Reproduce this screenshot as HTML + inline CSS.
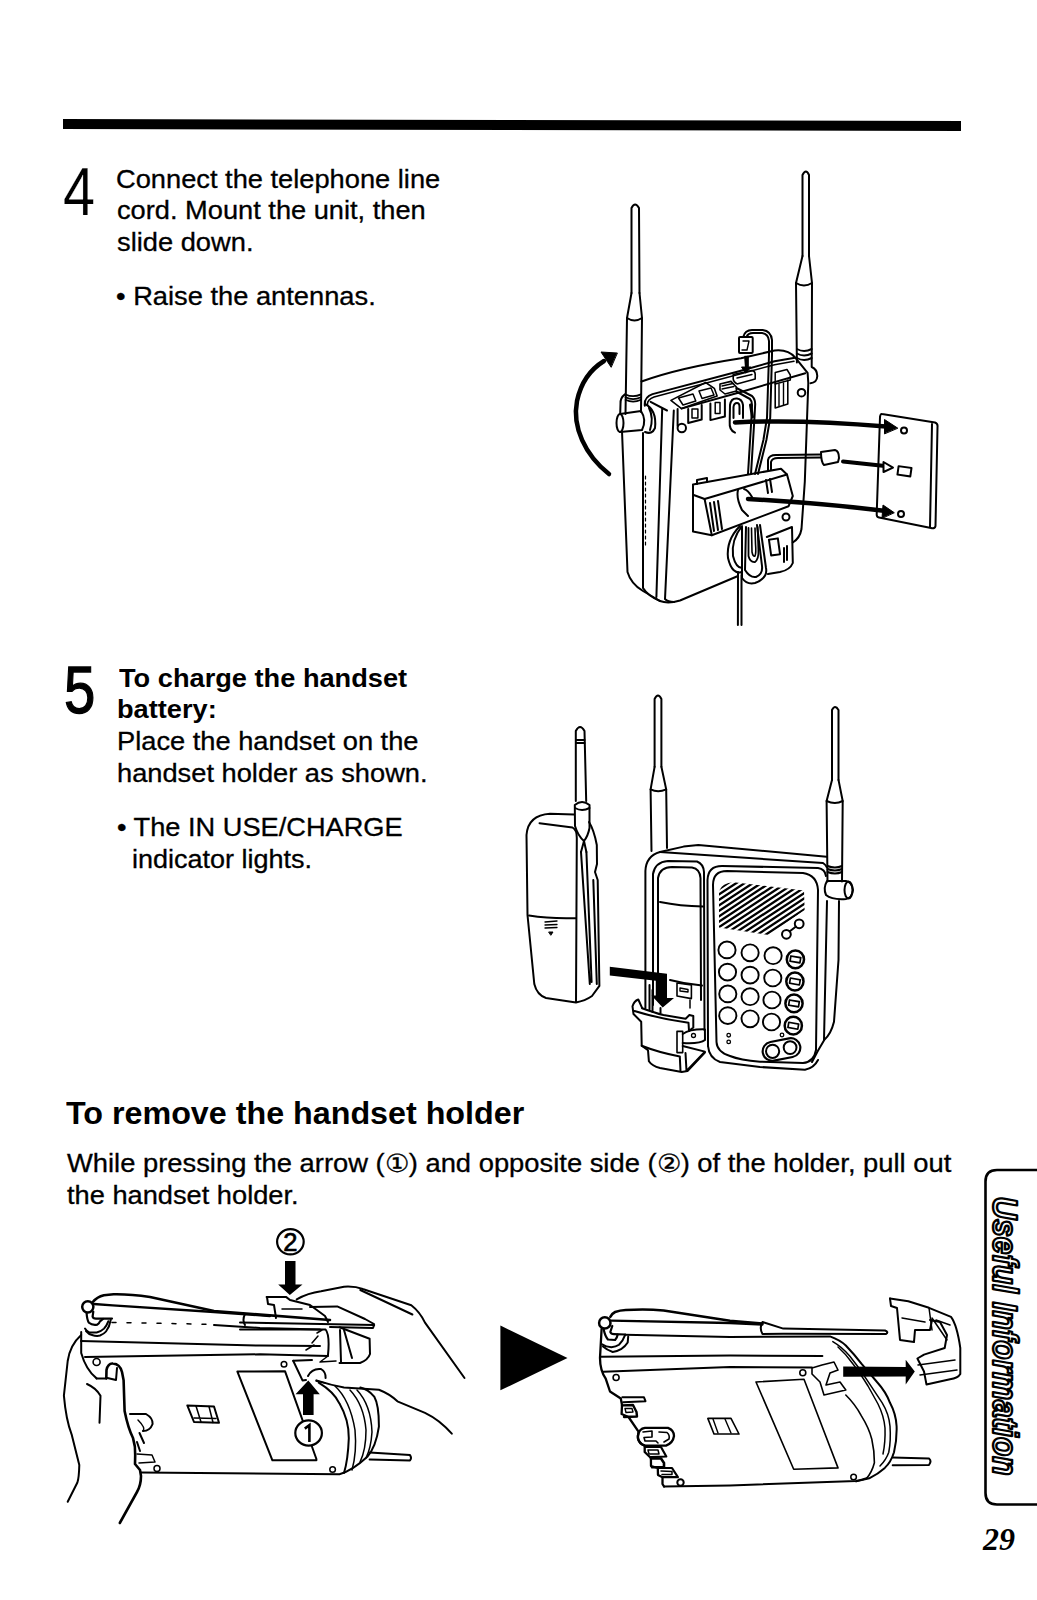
<!DOCTYPE html>
<html><head><meta charset="utf-8">
<style>
html,body{margin:0;padding:0;background:#fff;}
body{width:1037px;height:1600px;position:relative;overflow:hidden;font-family:"Liberation Sans",sans-serif;color:#000;}
.t{position:absolute;white-space:nowrap;line-height:1;transform-origin:0 0;-webkit-text-stroke:0.3px #000;}
.b{font-weight:bold;}
.num{position:absolute;font-size:67px;line-height:1;transform-origin:0 0;transform:scaleX(0.84);-webkit-text-stroke:1.3px #000;}
svg{position:absolute;left:0;top:0;}
</style></head><body>
<svg width="1037" height="1600" viewBox="0 0 1037 1600">
<polygon points="63,119 961,121 961,131 63,129" fill="#000"/>

<!-- ILL1 -->
<g fill="none" stroke="#000" stroke-width="2" stroke-linejoin="round" stroke-linecap="round">
<!-- left antenna -->
<path d="M631.5,293 L631.5,208 Q635,201 639,208 L639.5,293"/>
<path d="M631.5,293 L627,318 L625.5,414 M639.5,293 L642,318 L641,412"/>
<path d="M627,318 Q634.5,323 642,318"/>
<path d="M625.5,394.4 Q633,398 641,394.4 M625.5,397.3 Q633,401 641,397.3 M625.5,399.8 Q633,403.5 641,399.8" stroke-width="1.7"/>
<path d="M624.9,394.4 Q620,398 620.5,404 L620.2,414"/>
<path d="M620,414 L641,411 Q647,420 642,430 L620,432"/>
<ellipse cx="620" cy="423" rx="3.5" ry="9"/>
<path d="M645,404 Q657,410 655,428 Q652,435 645,432 M649,408 Q654,418 650,430"/>
<!-- right antenna -->
<path d="M802.5,256 L802.5,175 Q806,168 809,175 L809,256"/>
<path d="M802.5,256 L796,283 L796.9,362.4 M809,256 L812,283 L811.7,367 Q817,369 817.3,376 Q817,382.5 810.5,383.2"/>
<path d="M796,283 Q804,288 812,283"/>
<path d="M796.9,349 Q804,353 811.7,349 M796.9,353.5 Q804,357.5 811.7,353.5 M796.9,358 Q804,362 811.7,358"/>
<!-- rotation arrow -->
<path d="M609,474 C585,455 572,427 577,401 C581,382 591,369 604,361" stroke-width="4.5"/>
<polygon points="617,353 601,352 611,367" fill="#000" stroke-width="1"/>
<!-- body outline -->
<path d="M622,431 L627.5,572 Q631,584 643,591 L660,601 Q668,604 680,600.5 L738,576"/>
<path d="M641.5,381.5 C670,371 710,363 741,358.2 L774.6,350.5 Q788,349 795.5,357.8 L807.6,372.8 L808.3,383 L804.8,481.8 L801.5,529 Q800,538 792.8,542.5"/>
<path d="M644.8,405.7 Q644,397 652.5,394.1 L740,371 L774.6,361.2 L795,357.8"/>
<path d="M647.5,405 Q647,399.5 654,397 L740,374 L774.6,364.7 L794,361.2" stroke-width="1.5"/>
<path d="M650.6,401.8 L667,410.5"/>
<path d="M681.5,408.6 L740,392.2 L805.3,373.2"/>
<path d="M670.9,400.4 L705.6,382.5 L714.3,388.3 L717.1,396 L681.5,408.6 Z" stroke-width="1.6"/>
<path d="M678.5,398 L693,394 L695.8,401 L683,405 Z M699,391 L711,388 L714,395 L702,398.5 Z" stroke-width="1.5"/>
<path d="M643,433 L643,588 Q648,596 660,601"/>
<path d="M645.5,476 L645.5,545" stroke-width="1.2" stroke-dasharray="3,3"/>
<path d="M662.2,408.6 L656.4,597"/>
<path d="M673.8,410.5 L665,599 Q668,602 674,602"/>
<!-- hooks on top -->
<path d="M677.6,409 L677.6,426" />
<circle cx="681.8" cy="428" r="4.2"/>
<path d="M688.2,409 L688.2,423 L701.7,419.5 L701.7,405"/>
<rect x="692" y="409" width="5.9" height="9" stroke-width="1.5"/>
<path d="M710.4,403.5 L710.4,420.1 L724.9,416.5 L724.9,399.5"/>
<rect x="715.2" y="402.5" width="4.8" height="11" stroke-width="1.5"/>
<path d="M735,432.7 Q729,430 729.7,422 L730,405 Q731,398 737,398.5 Q742,399 743,405 L743,418"/>
<path d="M733.5,418 L733.5,407 Q734,403 737,403 Q739.5,403 739.5,407 L739.5,414"/>
<circle cx="801.5" cy="392.7" r="3.8"/>
<path d="M775.2,382.6 L775.2,408 L787.8,404 L787.8,380" stroke-width="1.6"/>
<path d="M779,384 L779,406 M783.5,383 L783.5,405" stroke-width="1.4"/>
<path d="M775.2,372.6 L787,369.5 L790.3,375 L790.3,380 L775.2,384 Z" stroke-width="1.5"/>
<!-- plug on top + cord -->
<rect x="739" y="337" width="13.7" height="16" rx="1"/>
<path d="M743,341 L749,341 L747,350 L742,350" stroke-width="1.4"/>
<path d="M743.2,337 Q745,330 752,330 L762.7,330 Q771,331 772,340 L772,355 L770.2,417.8 L766.4,440 L758,474"/>
<path d="M746.5,337 Q748,333 753,333 L762,333 Q768.5,334 769,341 L769,355 L767,417.8 L763.4,440 L755,474"/>
<path d="M745,356.3 L748.3,356.3 L748.3,367 L751,367 L745.8,373.2 L741.5,367 L745,367 Z" fill="#000" stroke-width="1"/>
<path d="M733.2,374.5 L752,370.5 Q755,371 755.2,374 L755.2,379 L737,383.9 Q733.5,382 733.2,379 Z" stroke-width="1.6"/>
<path d="M737,378 L752,374.5" stroke-width="1.4"/>
<path d="M720,384 L731,381.4 L736.4,387 L736.4,391 L725,394 L720,390 Z" stroke-width="1.6"/>
<path d="M722,386 L733,383.5 M722,389 L734,386.5" stroke-width="1.3"/>
<path d="M736.4,388 L752,396 Q755.2,399 755.2,404 L754.5,417 L751,474" stroke-width="2"/>
<path d="M736.4,391.5 L750,399 Q752,401 752,405 L751.5,417 L748,474" stroke-width="2"/>
<path d="M750.5,405 L752.5,417" stroke-width="3"/>
<!-- middle cord to plug -->
<path d="M768,470 L768,460 Q769,455 776,455 L821,454.5"/>
<path d="M771,470 L771,462 Q772,458 778,458 L821,457.5"/>
<path d="M821,452 L835,450 Q839,451 839,458 L838,462 L824,465 Q821,462 821,452 Z"/>
<!-- holder block -->
<path d="M693,494.7 L693,531.6 L711.8,535.2 L788.5,506.3 L792.8,496 L787,474.5 L781,468.7 L693,484.6 Z"/>
<path d="M693,494.7 L704.6,499 L787,474.5"/>
<path d="M704.6,499 L711.8,535.2"/>
<path d="M710,503 L714,531 M714,502 L718,530 M718,501 L722,529"/>
<path d="M697,484 L697,480 L707,478 L707,482"/>
<path d="M766,480 L768,493 M770,479 L772,492"/>
<path d="M738,490 Q736,498 742,510 L748,516 M744,489 Q748,490 752,497"/>
<circle cx="786" cy="517" r="3.5"/>
<!-- cord loops -->
<path d="M740,526 Q726,540 728,558 Q732,575 742,572"/>
<path d="M742,526 Q731,540 733,556 Q736,568 742,568"/>
<path d="M742,527 L742,578 Q747,585 755,583 Q768,578 766,568 L760,525"/>
<path d="M746,527 L745,570 Q750,578 756,577 Q763,574 762,566 L757,525"/>
<path d="M748.5,528 L748.5,556 Q750,562.5 755,562 Q759,559 758.4,549.4 L757.6,527" stroke-width="1.8"/>
<path d="M751.5,528 L752,552 Q753,557 755,556 Q756.3,553 755.5,544 L755,528" stroke-width="1.6"/>
<path d="M738,572 L737.9,625 M741.5,575 L741.5,625"/>
<!-- cord holder bracket -->
<path d="M766.8,537 L792,527 L792.8,563 Q790,570 780,572 L768,574"/>
<rect x="770" y="539" width="9" height="16" transform="rotate(-8 774 547)"/>
<path d="M784,548 L784,562 M787,546 L787,560"/>
<!-- wall plate -->
<path d="M882,414 L935,422.5 Q938,423.5 937.5,427 L935.5,526 Q935,529 931,528 L879,517.5 Q876.5,517 876.7,514 L880,417 Q880.5,413.5 882,414 Z"/>
<path d="M932,424 L930,527"/>
<circle cx="904" cy="430.5" r="3"/>
<rect x="898" y="467" width="13" height="8.5" transform="rotate(8 904 471)"/>
<circle cx="901" cy="514" r="3"/>
<!-- arrows to plate -->
<path d="M735,422.5 Q800,419 886,426.5" stroke-width="4.5"/>
<polygon points="897.5,428 884.5,419.5 884.5,433.5" fill="#000" stroke-width="1"/>
<path d="M843,461.5 L885,466" stroke-width="4"/>
<polygon points="893,467.6 883.5,462 883.5,472" fill="#fff" stroke-width="2"/>
<path d="M748,499 Q820,503 886,511" stroke-width="4.5"/>
<polygon points="894,512.5 883,505 882,518" fill="#000" stroke-width="1"/>
</g>

<!-- ILL2 -->
<g fill="none" stroke="#000" stroke-width="2" stroke-linejoin="round" stroke-linecap="round">
<!-- handset antenna -->
<path d="M575.8,801 L575.8,731 Q580,723 584.5,731 L586.2,801"/>
<path d="M576.5,740 L584.5,740 M576.5,743 L584.5,743"/>
<path d="M574.8,805 Q582,799 589.5,805 L589.5,828 Q588,836 584,841 Q578,836 575,826 Z"/>
<path d="M575,808 Q582,812 589.5,808"/>
<!-- handset body -->
<path d="M574,814.5 L550,813.7 Q528,815 526.5,835 L527.5,915 L534.3,984 Q537,995 546,998 L576,1002.4 Q585,1001 592,996 L599.4,985.9 L597.7,880 L595,872 L597,864 L596.8,845 Q594,830 589,822"/>
<path d="M539.5,823.2 L572.5,827.5 Q577,830 576.8,838 L576,1002"/>
<path d="M581,852 L589.8,984 M586.4,852 L591.6,982 M593.3,880 L596.8,984"/>
<path d="M584,841 L581,852 M584,841 L586.4,852"/>
<path d="M529,915.6 Q550,919 576,918.2"/>
<path d="M545,922 L557,921 M545,925 L557,924.5 M545,928 L557,927.5" stroke-width="1.3"/>
<path d="M549,932 L553,932 L551,935 Z" fill="#000" stroke-width="1"/>
<!-- base left antenna -->
<path d="M654.6,766.8 L654.6,699 Q658,692 661.4,699 L661.4,766.8"/>
<path d="M654.6,766.8 L650.6,789.4 L651.5,851 M661.4,766.8 L666.2,789.4 L667,848"/>
<path d="M650.6,789.4 Q658,793 666.2,789.4"/>
<!-- base right antenna -->
<path d="M832,779.9 L832,710 Q835,704 838.5,710 L838.5,779.9"/>
<path d="M832,779.9 L826.6,801 L827.5,881.5 M838.5,779.9 L842.7,801 L842,881.5"/>
<path d="M826.6,801 Q835,805 842.7,801"/>
<path d="M827.5,866 Q835,869 842,866 M827.5,869 Q835,872 842,869 M827.5,872 Q835,875 842,872"/>
<path d="M827,881 Q823,888 826,895 Q832,900 846,899 Q852,898 853,890 Q852,882 846,881 Z"/>
<ellipse cx="848.5" cy="890" rx="4" ry="8.5"/>
<!-- base body -->
<path d="M645.4,1008 L645.4,871 Q646,856 660,852 L683.6,846.6 L698.3,845 L826.6,856.8"/>
<path d="M660,852 L823,863 Q826,865 826.6,867"/>
<path d="M653,1005 L653,874 Q655,862 668,861 L697,861.5 Q703.5,864 704,872 L704.5,1030"/>
<path d="M839,901 L838.5,960 L834,1021.8 Q831,1034 824.4,1039.7 Q818,1050 812,1062"/>
<path d="M827,901 L824,1040"/>
<!-- handset in cradle -->
<path d="M658,1000 L658,878 Q660,867 672,867 L692,867.5 Q700,869 700.5,878 L701,1000"/>
<path d="M660,902 Q680,906 703,906.6"/>
<path d="M670,980 Q685,984 702,985.6"/>
<path d="M677,983 L691.4,985 L691.4,998.6 L677,996 Z" stroke-width="1.6"/>
<path d="M680,988 L688,989.5 L688,992 L680,991 Z" stroke-width="1.4"/>
<!-- keypad panel -->
<path d="M708,1046 L707.5,880 Q708,866 722,866 L818,868 Q825,869 826,876"/>
<path d="M727,871 L803,873 Q817,875 818,890 L816,1050 Q814,1062 803,1063 L760,1061.7 Q740,1060 730,1056 Q717,1052 716.5,1042 L713,885 Q713,871 727,871 Z"/>
<path d="M708,1046 Q709,1058 720,1062 L760,1067 L805,1069.8 Q814,1068 818,1060"/>
<!-- speaker grille -->
<clipPath id="grille"><path d="M719,891 Q722,883 733.8,882.3 L804,890.4 L804.6,910 L769,935 L719,927.5 Z"/></clipPath>
<g clip-path="url(#grille)" stroke-width="2.3">
<path d="M630.0,942 L726.0,879"/>
<path d="M638.3,942 L734.3,879"/>
<path d="M646.6,942 L742.6,879"/>
<path d="M654.9,942 L750.9,879"/>
<path d="M663.2,942 L759.2,879"/>
<path d="M671.5,942 L767.5,879"/>
<path d="M679.8,942 L775.8,879"/>
<path d="M688.1,942 L784.1,879"/>
<path d="M696.4,942 L792.4,879"/>
<path d="M704.7,942 L800.7,879"/>
<path d="M713.0,942 L809.0,879"/>
<path d="M721.3,942 L817.3,879"/>
<path d="M729.6,942 L825.6,879"/>
<path d="M737.9,942 L833.9,879"/>
<path d="M746.2,942 L842.2,879"/>
<path d="M754.5,942 L850.5,879"/>
<path d="M762.8,942 L858.8,879"/>
<path d="M771.1,942 L867.1,879"/>
<path d="M779.4,942 L875.4,879"/>
<path d="M787.7,942 L883.7,879"/>
<path d="M796.0,942 L892.0,879"/>
<path d="M804.3,942 L900.3,879"/>
<path d="M812.6,942 L908.6,879"/>
</g>
<circle cx="786.4" cy="934.3" r="4.4"/>
<circle cx="799.2" cy="923.8" r="4.4"/>
<path d="M789.5,931.5 L796,926.5"/>
<ellipse cx="727" cy="949.9" rx="8.6" ry="8.4" stroke-width="1.9"/>
<ellipse cx="750.1" cy="952.8" rx="8.6" ry="8.4" stroke-width="1.9"/>
<ellipse cx="773.1" cy="955.7" rx="8.6" ry="8.4" stroke-width="1.9"/>
<ellipse cx="795.4" cy="959.4" rx="8.6" ry="8.9" stroke-width="2.5"/>
<rect x="790.4" y="956.8" width="10" height="5.2" stroke-width="1.7" transform="rotate(10 795.4 959.4)"/>
<ellipse cx="727.5" cy="972.1" rx="8.6" ry="8.4" stroke-width="1.9"/>
<ellipse cx="750.1" cy="975.1" rx="8.6" ry="8.4" stroke-width="1.9"/>
<ellipse cx="772.8" cy="978" rx="8.6" ry="8.4" stroke-width="1.9"/>
<ellipse cx="794.9" cy="981.5" rx="8.6" ry="8.9" stroke-width="2.5"/>
<rect x="789.9" y="978.9" width="10" height="5.2" stroke-width="1.7" transform="rotate(10 794.9 981.5)"/>
<ellipse cx="727.8" cy="993.9" rx="8.6" ry="8.4" stroke-width="1.9"/>
<ellipse cx="750.1" cy="996.7" rx="8.6" ry="8.4" stroke-width="1.9"/>
<ellipse cx="772" cy="1000" rx="8.6" ry="8.4" stroke-width="1.9"/>
<ellipse cx="794" cy="1003.4" rx="8.6" ry="8.9" stroke-width="2.5"/>
<rect x="789.0" y="1000.8" width="10" height="5.2" stroke-width="1.7" transform="rotate(10 794 1003.4)"/>
<ellipse cx="727.8" cy="1015.6" rx="8.6" ry="8.4" stroke-width="1.9"/>
<ellipse cx="750.1" cy="1018.8" rx="8.6" ry="8.4" stroke-width="1.9"/>
<ellipse cx="771.5" cy="1022" rx="8.6" ry="8.4" stroke-width="1.9"/>
<ellipse cx="793.3" cy="1025.7" rx="8.6" ry="8.9" stroke-width="2.5"/>
<rect x="788.3" y="1023.1" width="10" height="5.2" stroke-width="1.7" transform="rotate(10 793.3 1025.7)"/>
<circle cx="728.7" cy="1035.2" r="1.8" stroke-width="1.3"/>
<circle cx="728.7" cy="1041.9" r="1.8" stroke-width="1.3"/>
<circle cx="782" cy="1035" r="1.8" stroke-width="1.3"/>
<rect x="762.5" y="1040" width="38" height="19" rx="9.5" transform="rotate(-11 781.5 1049.5)" stroke-width="2.2"/>
<circle cx="772.6" cy="1051.3" r="6.6"/>
<circle cx="790.1" cy="1047.6" r="6.4"/>
<!-- cradle holder -->
<path d="M642.2,1008.2 L638.3,999.5 Q634,1001 632.5,1006.3 L633.5,1014 L641.2,1021.7 L641.7,1045.8 L648,1050.2 L648.9,1061.3 Q652,1066 660,1068 L681.7,1071.9 L687.5,1071 L704.9,1052.6"/>
<path d="M642.2,1008.2 Q655,1013 663.4,1015 L685.6,1018.8 L689.4,1015 L693.3,1016 L693.3,1027.5 L689,1031"/>
<path d="M634.5,1011 Q660,1019 688.5,1022.7 L689,1031"/>
<path d="M641.7,1045.8 Q660,1053 679.8,1056.4 L680.5,1071"/>
<path d="M677,1031.4 L682.7,1031.4 L682.7,1052.6 L677,1052.6 Z" stroke-width="1.6"/>
<path d="M682.7,1034 Q690,1029 704.9,1029.4 L705,1040 Q700,1044 682.7,1043"/>
<circle cx="693.5" cy="1035.5" r="2" stroke-width="1.3"/>
<path d="M682.7,1046 L704.9,1051.6 L686.5,1071 L685.5,1053"/>
<path d="M649.5,1010 L649.5,985 M652.5,1012 L652.5,990 M660.5,1013 L660.5,1008"/>
<path d="M690,1000 L690,1008" stroke-width="1.5"/>
</g>
<!-- L arrow -->
<path d="M609.8,966.8 L667,973.7 L667,998 L674,998 L662.7,1007.6 L651.5,995.4 L655.8,995.4 L655.8,980.7 L609.8,975.5 Z" fill="#000"/>

<!-- ILL3 -->
<g fill="none" stroke="#000" stroke-width="2" stroke-linejoin="round" stroke-linecap="round">
<!-- antenna knob -->
<circle cx="87.8" cy="1306.8" r="5.6" stroke-width="2.5"/>
<path d="M93.3,1311.7 L92.6,1316.5 Q93,1318.6 96,1318.6 L112,1318.6" stroke-width="2.2"/>
<path d="M86.6,1313 Q87,1320 89,1322.8 Q92,1325.5 97.2,1324.7 Q99.5,1323 100,1321.3 L103,1319" stroke-width="2.2"/>
<path d="M85,1328.6 Q87,1332 89.5,1332.4 L96.7,1332.4 Q101,1331.5 104,1328.6 Q107,1325 108.3,1321.3" stroke-width="2"/>
<path d="M86,1331 Q89,1334.5 92,1335 Q96.7,1336.5 100,1335.5 Q104,1334 106,1331.5 Q109.5,1327 110.7,1320" stroke-width="2"/>
<!-- top outer curve -->
<path d="M92.8,1302 Q97,1297 103.9,1295.3 L113.6,1294.3 Q130,1294 150,1297 L214,1311 L330,1320" stroke-width="2.6"/>
<path d="M93.8,1304 L112.6,1305.4 L214,1312 L270,1316" stroke-width="2.3"/>
<path d="M112,1322.4 L214,1324.4" stroke-dasharray="4,11" stroke-width="1.5"/>
<path d="M214,1325 L260,1328 L320,1329.5"/>
<path d="M245,1314 Q242,1320 245,1325"/>
<path d="M81,1341 L260,1345.6 L320,1346"/>
<path d="M85,1357 L260,1354.3 L328,1356"/>
<path d="M240,1329.5 L325.6,1329.5 Q330,1335 328,1355"/>
<!-- body left edge -->
<path d="M81.2,1332 L81.2,1353 Q86,1370 96.6,1378.4"/>
<circle cx="96.6" cy="1362" r="3.5" stroke-width="1.6"/>
<!-- left hand -->
<path d="M81.2,1335 Q70,1345 67.7,1361 L63.9,1395.7 Q66,1420 71.6,1434.3 L79.3,1465 Q79,1478 77.4,1482.5 L67.7,1501.8"/>
<path d="M87,1384 Q96,1388 100.5,1395.7 L99.5,1422.7"/>
<path d="M106.3,1378.4 L106.5,1370 Q108,1363 113,1363.5 Q120,1364 122,1372 L123.6,1380.3 L124.6,1411 Q128,1428 133,1438 Q135.5,1446 135.2,1455 L135,1464 L140,1470 L141,1476 Q141,1485 137,1492 L119.8,1523" stroke-width="2.6"/>
<path d="M107.5,1378 L116,1380 L117,1368"/>
<path d="M96.6,1378.4 L106.3,1378.4"/>
<!-- body bottom and right end -->
<path d="M141,1472.5 L339.5,1474.2 Q352,1471 367.3,1456.8 Q376,1447 378.9,1426.7 Q379,1405 374.2,1396.6 Q368,1389 360.3,1387.4"/>
<path d="M318.7,1382.7 Q334,1392 339.5,1403.6 Q349,1420 348.8,1438.3 Q348,1460 344,1473"/>
<path d="M335,1386 Q350,1400 355,1430 Q357,1452 352,1470" stroke-width="1.5"/>
<path d="M350,1390 Q364,1405 366,1430 Q366,1450 360,1462" stroke-width="1.5"/>
<path d="M357,1390 Q371,1405 372,1432 Q371,1448 366,1458" stroke-width="1.5"/>
<path d="M369.6,1452.5 L410,1455 Q412,1458 410,1460.5 L369.6,1459.5"/>
<circle cx="332.6" cy="1469.5" r="2.8" stroke-width="1.5"/>
<!-- label parallelogram -->
<path d="M237.4,1371.6 L285,1371.2 L316.4,1459 L316.4,1460.3 L272.4,1460.3 L237.4,1371.6" />
<circle cx="284" cy="1364.2" r="2.8" stroke-width="1.5"/>
<path d="M293.2,1360.8 L302.5,1380.4 L306,1380"/>
<path d="M293.2,1360.8 L312,1360"/>
<!-- small window -->
<path d="M187.3,1405.4 L214,1406.5 L219,1422.7 L194,1422 Z"/>
<path d="M196,1406 L201,1422 M209,1406.5 L213,1422.5 M194,1418 L216,1418.5" stroke-width="1.5"/>
<!-- bump and bottom-left details -->
<path d="M130,1414 L146,1414 Q153,1418 152.6,1424 Q150,1431 143,1431"/>
<path d="M138,1420 Q146,1428 143,1431" stroke-width="1.5"/>
<path d="M137,1454 L152,1455 L155,1462 L139,1463" stroke-width="1.5"/>
<circle cx="157" cy="1468.5" r="3" stroke-width="1.5"/>
<path d="M137,1442 L140,1451 M139.5,1433 L144,1443" stroke-width="2"/>
<!-- holder being pressed -->
<path d="M266.6,1297.1 L286.3,1297.1 L290,1300 L310,1305 L325,1316 L328,1322"/>
<path d="M267,1297 L268,1304 L274,1305 L276,1318"/>
<path d="M282,1309 L302,1309" stroke-width="1.5"/>
<path d="M240,1322.6 L374.2,1324.9 L373,1328 L330,1327"/>
<path d="M310,1307 L337.2,1306.4 L365,1319 L374,1324"/>
<path d="M339.5,1327.2 L369.6,1338.8 L370,1354 Q368,1360 360,1363 L339.5,1363"/>
<path d="M340,1330 L341,1362 M344,1330 L352,1358"/>
<path d="M328,1356 L320,1362 L336,1361" stroke-width="1.5"/>
<path d="M312,1343 L318,1336 M306,1350 L314,1345 M317,1333 L322,1330" stroke-width="1.5"/>
<!-- right hand upper -->
<path d="M296.7,1299.4 Q308,1293 321,1291.3 L344,1286.7 Q355,1286 362.7,1289 L411.3,1305.2 Q420,1312 425,1322.6 L464.5,1378"/>
<path d="M360.3,1290 L412.4,1314.5"/>
<!-- right hand lower -->
<path d="M308,1376 Q312,1368 321,1369 Q326,1372 325.6,1378"/>
<path d="M316.4,1380.4 Q330,1385 344,1387.4 L378.9,1389.7 Q390,1394 397.4,1401.3 L425,1412.8 Q440,1420 451.8,1433.7"/>
<path d="M316,1381 L325,1383" stroke-width="1.5"/>
</g>
<!-- numbered markers ill3 -->
<g fill="#fff" stroke="#000" stroke-width="2.2">
<ellipse cx="290.4" cy="1241.8" rx="13.3" ry="12.6"/>
<ellipse cx="308.6" cy="1433" rx="13.3" ry="12.6"/>
</g>
<text x="290.4" y="1250.7" font-family="Liberation Sans" font-size="25.5" text-anchor="middle" stroke="#000" stroke-width="0.7">2</text>
<path d="M309.4,1442 L309.4,1425.2 L304.8,1428.6" fill="none" stroke="#000" stroke-width="2.6" stroke-linejoin="miter"/>
<path d="M285,1261 L295.5,1261 L295.5,1284.4 L302.5,1284.4 L289.8,1295 L278.2,1284.4 L285,1284.4 Z" fill="#000"/>
<path d="M303,1415 L313.6,1415 L313.6,1394.3 L319.8,1394.3 L308.3,1380.4 L295.5,1394.3 L303,1394.3 Z" fill="#000"/>

<!-- ILL4 -->
<polygon points="500.4,1325.5 500.4,1390.3 567.5,1357.9" fill="#000"/>
<g fill="none" stroke="#000" stroke-width="2" stroke-linejoin="round" stroke-linecap="round">
<circle cx="604.8" cy="1322.9" r="5.7" stroke-width="2.5"/>
<path d="M612.3,1326 L610.3,1332 Q611,1334.2 614,1334.2 L625,1334.5" stroke-width="2.2"/>
<path d="M603.6,1329 Q605,1336 607.9,1339.5 L615.1,1340 Q617,1338 617.6,1334.7" stroke-width="2.2"/>
<path d="M602.1,1344.4 Q606,1347 611.3,1347.3 Q616,1347 619,1344.8 Q623,1341 625.3,1334.7" stroke-width="2"/>
<path d="M603,1346.5 Q607,1350 612.7,1352 Q617,1351.5 621,1349.2 Q625.5,1346 627.7,1342.4 L628.2,1336.6" stroke-width="2"/>
<path d="M610.3,1316.9 Q612,1313.5 615.1,1312 Q620,1310.4 625.8,1310.1 Q645,1309 663.6,1310.4 L730,1320.8 L762.5,1323.4" stroke-width="2.5"/>
<path d="M611.3,1320.7 L730,1323 L762.5,1324.5" stroke-width="2.3"/>
<path d="M762.5,1322 L783.3,1328.6 L885,1330.5 Q889,1332 886,1334 L783.3,1333.8 L762.5,1334 Q759,1328 762.5,1322"/>
<path d="M625,1334.7 L730,1337 L830,1336.4 Q840,1340 845.8,1345.5 Q854,1354 861.4,1363.7 L877,1382 Q886,1392 890,1402.8 Q896,1414 896.6,1426.2 Q897,1440 894,1452.2 Q891,1462 884.8,1467.9 Q878,1474 869.2,1478.3 L856.2,1481.4"/>
<path d="M832.8,1341.6 Q842,1347 849.7,1355.9 Q858,1366 866.6,1379.3 L882.2,1402.8 Q889,1414 890,1426.2 Q891,1440 888.8,1452.2 Q886,1460 880,1466" stroke-width="1.5"/>
<path d="M838,1347 Q846,1354 853,1364 Q860,1373 868,1386 L878,1404 Q884,1416 885,1428 Q885.5,1442 883,1454" stroke-width="1.5"/>
<path d="M845.8,1395 Q855,1404 861.4,1415.8 Q869,1428 871.8,1439.2 Q874.5,1451 874.4,1462.7 Q872,1472 866.6,1478.3" stroke-width="1.6"/>
<path d="M601,1356.7 L730,1355.5 L822.4,1356"/>
<path d="M603.4,1371.7 L730,1367 L812,1367.6"/>
<path d="M601.6,1329 L600,1357.9 Q600,1370 605.7,1378.7 L610,1391.5 L620.8,1398.5 L622,1405 L621.6,1414 L628.5,1417 L638.5,1431.7 L637.8,1438 Q639,1444 644.7,1445.6 L644.7,1452 L650.9,1458 L651,1466 L657.8,1468 L658,1475 L662.5,1477.2 L662.5,1484 L664,1486.5" stroke-width="2.3"/>
<circle cx="616.1" cy="1377.5" r="3" stroke-width="1.6"/>
<path d="M622.3,1397.3 L644,1397.3 L645.5,1401.2 L623.1,1402.3" stroke-width="2"/>
<path d="M622,1405.4 L633,1405 L636.5,1412 L637,1416.5 L624,1417" stroke-width="2.4"/>
<path d="M625,1408.5 L632,1408.5 L633,1412 L626,1412.5 Z" stroke-width="1.4"/>
<path d="M645,1427.8 L668,1427.8 Q674,1430 674,1436 Q673,1443 666,1445.6 L644.7,1445.6 Q638,1443 637.8,1436 Q639,1428.5 645,1427.8 Z" stroke-width="2.3"/>
<path d="M643,1432 L652,1431 L652,1437 L644,1437.5 L645,1441 L656,1441 L658,1443" stroke-width="1.6"/>
<path d="M659,1432 L667,1432.5 Q670,1435 669,1439 L664,1442" stroke-width="1.6"/>
<path d="M645,1447 L661,1447 L666.3,1456.5 L650.9,1457.1" stroke-width="2.2"/>
<path d="M648,1450 L658,1450 L659,1454 L649,1454 Z" stroke-width="1.5"/>
<path d="M651,1458.5 L661,1458.5 L664,1463 L664,1467.2 L652,1467.2" stroke-width="2.6"/>
<path d="M657.8,1468 L672,1468 L677.9,1477.2 L662.5,1477.2" stroke-width="2.2"/>
<path d="M661,1471 L672,1471.5 L672,1474.5 L662,1474.5" stroke-width="1.5"/>
<circle cx="680.5" cy="1482.5" r="3.2" stroke-width="2"/>
<path d="M664,1486.5 L730,1485.5 L856,1480.9 Q862,1480 866.6,1478.3"/>
<circle cx="853.6" cy="1477" r="2.8" stroke-width="1.5"/>
<circle cx="802.8" cy="1372.8" r="3" stroke-width="1.6"/>
<path d="M756,1382 L804,1379.3 L838,1467.9 L793.7,1469.2 Z" stroke-width="1.6"/>
<path d="M707.8,1418.4 L731,1418.4 L739,1434 L714,1434 Z" stroke-width="1.6"/>
<path d="M713,1419 L718,1433 M725,1419 L731,1433" stroke-width="1.4"/>
<path d="M812,1368 L822,1365 L834,1362 L838,1370 L830,1373 L826,1385 L840,1382 L845.8,1390 L824,1395 L820,1382 L812,1374 Z" stroke-width="1.6"/>
<path d="M892.7,1457.5 L929,1458.5 Q932,1461 929,1465 L892.7,1465.3"/>
<!-- detached holder -->
<path d="M890,1298.6 L908.3,1301.2 L929,1307.8 L951,1316.9 Q957,1325 960.3,1348 L960.3,1374 Q958,1378 950,1379.3 L926.5,1384.6 L924,1371.5 L917.4,1358.5 L924,1354.6 L944.7,1348 L947,1335 L940,1322 L930,1320"/>
<path d="M890,1298.6 L891,1306 L897,1308 L900,1340 L914,1342 L915,1330 L930,1330 L932,1320"/>
<path d="M929,1308 L932,1330 M932,1318 L947,1340 M936,1320 L950,1325" stroke-width="1.5"/>
<path d="M918,1365 L955,1360 M920,1375 L957,1370 M902,1318 L925,1322" stroke-width="1.5"/>
</g>
<path d="M843.2,1366.5 L905.7,1367 L905.7,1359.8 L914.8,1371.5 L905.7,1384.6 L905.7,1376.5 L843.2,1376.7 Z" fill="#000"/>

<!-- side tab -->
<path d="M1037,1170 L997,1170 Q985.5,1170 985.5,1181.5 L985.5,1493 Q985.5,1504.5 997,1504.5 L1037,1504.5" fill="none" stroke="#000" stroke-width="2.6"/>
<text transform="translate(992.8,1196.5) rotate(90) scale(0.908 1)" font-family="Liberation Sans" font-weight="bold" font-style="italic" font-size="34.8" fill="#fff" stroke="#000" stroke-width="2.4" stroke-linejoin="round">Useful Information</text>
<text x="983" y="1550" font-family="Liberation Serif" font-weight="bold" font-style="italic" font-size="32">29</text>
</svg>
<div class="num" style="left:63.3px;top:158.3px;font-size:68.5px;-webkit-text-stroke:0.25px #fff;">4</div>

<div class="num" style="left:64px;top:655.5px;">5</div>

<div class="t" style="left:116.4px;top:167.2px;font-size:25px;font-weight:400;transform:scaleX(1.090)">Connect the telephone line</div>
<div class="t" style="left:116.9px;top:197.8px;font-size:25px;font-weight:400;transform:scaleX(1.089)">cord. Mount the unit, then</div>
<div class="t" style="left:116.9px;top:229.5px;font-size:25px;font-weight:400;transform:scaleX(1.091)">slide down.</div>
<div class="t" style="left:115.7px;top:284.3px;font-size:25px;font-weight:400;transform:scaleX(1.091)">• Raise the antennas.</div>
<div class="t" style="left:118.8px;top:666.2px;font-size:25px;font-weight:700;-webkit-text-stroke:0;transform:scaleX(1.088)">To charge the handset</div>
<div class="t" style="left:116.6px;top:697.1px;font-size:25px;font-weight:700;-webkit-text-stroke:0;transform:scaleX(1.088)">battery:</div>
<div class="t" style="left:116.6px;top:729.4px;font-size:25px;font-weight:400;transform:scaleX(1.090)">Place the handset on the</div>
<div class="t" style="left:116.6px;top:760.8px;font-size:25px;font-weight:400;transform:scaleX(1.090)">handset holder as shown.</div>
<div class="t" style="left:117.0px;top:815.0px;font-size:25px;font-weight:400;transform:scaleX(1.088)">• The IN USE/CHARGE</div>
<div class="t" style="left:132.4px;top:846.8px;font-size:25px;font-weight:400;transform:scaleX(1.080)">indicator lights.</div>
<div class="t" style="left:65.7px;top:1098.3px;font-size:31.5px;font-weight:700;-webkit-text-stroke:0;transform:scaleX(1.024)">To remove the handset holder</div>
<div class="t" style="left:67.0px;top:1150.8px;font-size:25px;font-weight:400;transform:scaleX(1.094)">While pressing the arrow (①) and opposite side (②) of the holder, pull out</div>
<div class="t" style="left:67.0px;top:1182.6px;font-size:25px;font-weight:400;transform:scaleX(1.089)">the handset holder.</div>

</body></html>
